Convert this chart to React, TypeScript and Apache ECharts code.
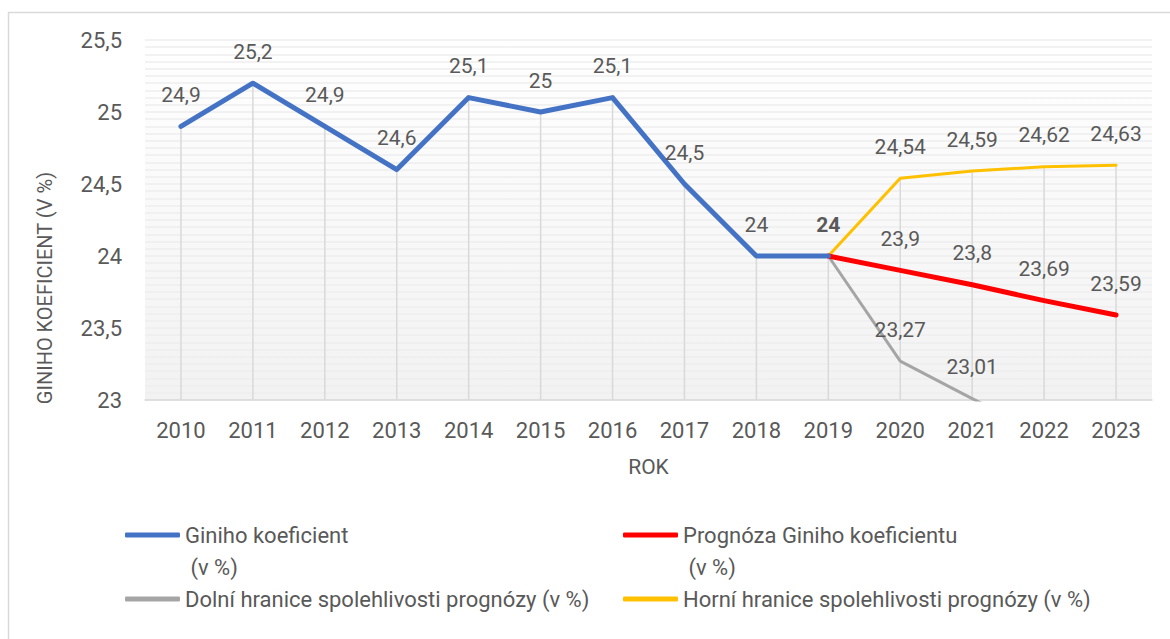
import React, { useEffect, useRef } from "react";
import * as echarts from "echarts";

const years = ["2010", "2011", "2012", "2013", "2014", "2015", "2016", "2017", "2018", "2019", "2020", "2021", "2022", "2023"];
const gini = [24.9, 25.2, 24.9, 24.6, 25.1, 25.0, 25.1, 24.5, 24.0, 24.0, null, null, null, null];
const forecast = [null, null, null, null, null, null, null, null, null, 24.0, 23.9, 23.8, 23.69, 23.59];
const lowerBound = [null, null, null, null, null, null, null, null, null, 24.0, 23.27, 23.01, 22.76, 22.55];
const upperBound = [null, null, null, null, null, null, null, null, null, 24.0, 24.54, 24.59, 24.62, 24.63];
const yTicks = [23, 23.5, 24, 24.5, 25, 25.5];

const NAME_GINI = "Giniho koeficient (v %)";
const NAME_FORECAST = "Prognóza Giniho koeficientu (v %)";
const NAME_LOWER = "Dolní hranice spolehlivosti prognózy (v %)";
const NAME_UPPER = "Horní hranice spolehlivosti prognózy (v %)";

const Y_MIN = yTicks[0];
const Y_MAX = yTicks[yTicks.length - 1];
const TEXT = "#595959";
const FONT = "Roboto";

const fmt = (v: number) => String(v).replace(".", ",");

function buildData(values: (number | null)[], opts: { hideIdx?: number; boldIdx?: number }) {
  return values.map((v, i) => {
    if (v === null) return null;
    const item: any = { value: v };
    if (i === opts.hideIdx || v < Y_MIN) item.label = { show: false };
    if (i === opts.boldIdx) item.label = { fontWeight: "bold" };
    return item;
  });
}

function lineSeries(name: string, color: string, width: number, data: any[], z: number) {
  return {
    type: "line",
    name,
    data,
    color,
    z,
    clip: true,
    symbol: "circle",
    symbolSize: 1,
    showSymbol: true,
    lineStyle: { color, width, cap: "round", join: "round" },
    itemStyle: { color },
    label: {
      show: true,
      position: "top",
      distance: 20,
      formatter: (p: any) => fmt(p.value),
      color: TEXT,
      fontFamily: FONT,
      fontSize: 21,
      lineHeight: 22,
    },
  };
}

function makeLegend(name: string, left: number, top: number, wrap: boolean) {
  return {
    data: [name],
    left,
    top,
    orient: "horizontal",
    padding: 0,
    selectedMode: false,
    icon: "roundRect",
    itemWidth: 55,
    itemHeight: 5,
    formatter: (n: string) => (wrap ? "\n" + n.replace(" (v %)", "\n (v %)") : n),
    textStyle: {
      color: TEXT,
      fontFamily: FONT,
      fontSize: 22,
      lineHeight: 32,
    },
  };
}

export default function App() {
  const ref = useRef<HTMLDivElement>(null);

  useEffect(() => {
    if (!ref.current) return;
    const chart = echarts.init(ref.current, undefined, { renderer: "svg" });

    const dropData = years.map((_, i) => {
      const vals = [gini[i], forecast[i], lowerBound[i], upperBound[i]].filter((v) => v !== null) as number[];
      return [i, Math.min(Y_MAX, Math.max(...vals))];
    });

    const option: any = {
      animation: false,
      backgroundColor: "#ffffff",
      textStyle: { fontFamily: FONT },
      grid: {
        left: 145,
        right: 18,
        top: 40,
        bottom: 239,
        show: true,
        borderWidth: 0,
        backgroundColor: new echarts.graphic.LinearGradient(0, 0, 0, 1, [
          { offset: 0, color: "#ffffff" },
          { offset: 1, color: "#f2f2f2" },
        ]),
      },
      xAxis: {
        type: "category",
        data: years,
        boundaryGap: true,
        axisLine: { show: true, lineStyle: { color: "#d9d9d9", width: 1.5 } },
        axisTick: { show: false },
        axisLabel: { color: TEXT, fontFamily: FONT, fontSize: 22, margin: 19 },
        splitLine: { show: false },
        name: "ROK",
        nameLocation: "middle",
        nameGap: 56,
        nameTextStyle: { color: TEXT, fontFamily: FONT, fontSize: 21 },
      },
      yAxis: {
        type: "value",
        min: Y_MIN,
        max: Y_MAX,
        interval: 0.5,
        axisLine: { show: false },
        axisTick: { show: false },
        axisLabel: {
          color: TEXT,
          fontFamily: FONT,
          fontSize: 22,
          margin: 23,
          formatter: (v: number) => fmt(v),
        },
        splitLine: { show: true, lineStyle: { color: "#eeeeee", width: 1.5 } },
        minorTick: { show: false, splitNumber: 10 },
        minorSplitLine: { show: true, lineStyle: { color: "#eeeeee", width: 1.5 } },
      },
      legend: [
        makeLegend(NAME_GINI, 125, 487, true),
        makeLegend(NAME_FORECAST, 623, 487, true),
        makeLegend(NAME_LOWER, 125, 583, false),
        makeLegend(NAME_UPPER, 623, 583, false),
      ],
      graphic: [
        {
          type: "rect",
          silent: true,
          shape: { x: 8.5, y: 12.5, width: 1200, height: 700 },
          style: { fill: "none", stroke: "#d9d9d9", lineWidth: 1.5 },
        },
        {
          type: "text",
          silent: true,
          x: 45,
          y: 288,
          rotation: Math.PI / 2,
          style: {
            text: "GINIHO KOEFICIENT (V %)",
            fill: TEXT,
            font: `20px ${FONT}`,
            align: "center",
            verticalAlign: "middle",
          },
        },
      ],
      series: [
        {
          type: "custom",
          name: "drop",
          z: 1,
          silent: true,
          data: dropData,
          renderItem: (params: any, api: any) => {
            const top = api.coord([api.value(0), api.value(1)]);
            const base = api.coord([api.value(0), Y_MIN]);
            return {
              type: "line",
              shape: { x1: top[0], y1: top[1], x2: top[0], y2: base[1] },
              style: { stroke: "#d9d9d9", lineWidth: 1.5 },
            };
          },
        },
        lineSeries(NAME_LOWER, "#A5A5A5", 3, buildData(lowerBound, { hideIdx: 9 }), 3),
        lineSeries(NAME_UPPER, "#FFC000", 3, buildData(upperBound, { hideIdx: 9 }), 3),
        lineSeries(NAME_FORECAST, "#FF0000", 5, buildData(forecast, { hideIdx: 9 }), 4),
        lineSeries(NAME_GINI, "#4472C4", 5, buildData(gini, { boldIdx: 9 }), 5),
      ],
    };

    chart.setOption(option);
    return () => chart.dispose();
  }, []);

  return (
    <div
      ref={ref}
      style={{ position: "absolute", left: 0, top: 0, width: 1170, height: 639 }}
    />
  );
}
